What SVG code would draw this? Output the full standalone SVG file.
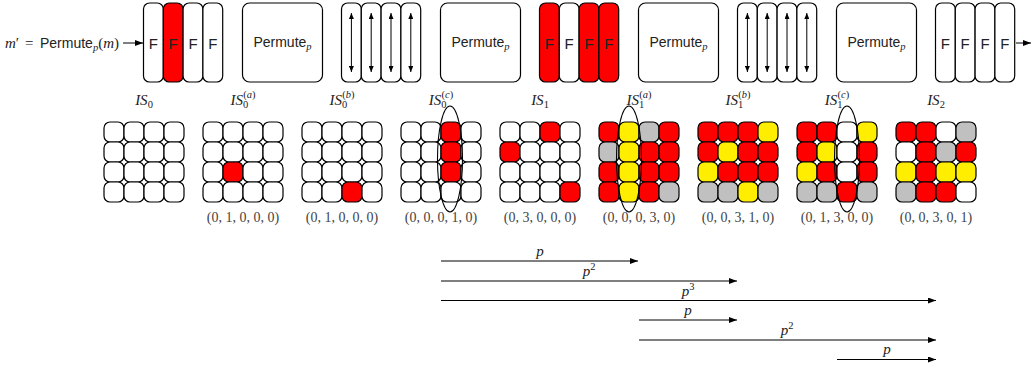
<svg xmlns="http://www.w3.org/2000/svg" width="1031" height="365" viewBox="0 0 1031 365">
  <style>
    .box { fill: #fff; stroke: #000; stroke-width: 1.2; }
    .red { fill: #ff0000; }
    .yel { fill: #ffee00; }
    .gry { fill: #c0c0c0; }
    .wht { fill: #fff; }
    .cell { stroke: #000; stroke-width: 1.2; }
    .sans { font-family: "Liberation Sans", Arial, sans-serif; font-size: 14px; fill: #222; }
    .fl { font-family: "Liberation Sans", Arial, sans-serif; font-size: 15px; fill: #222; text-anchor: middle; }
    .math { font-family: "Liberation Serif", "Times New Roman", serif; font-size: 15px; fill: #222; }
    .it { font-style: italic; }
    .sub { font-size: 10.5px; }
    .tuple { font-family: "Liberation Serif", "Times New Roman", serif; font-size: 14px; fill: #444; text-anchor: middle; }
    .conn { stroke: #000; stroke-width: 1; fill: none; }
    .ell { fill: none; stroke: #000; stroke-width: 1.1; }
  </style>
  <defs>
    <marker id="ah" viewBox="0 0 8 6" refX="8" refY="3" markerWidth="8" markerHeight="6" markerUnits="userSpaceOnUse" orient="auto-start-reverse">
      <path d="M0,0 L8,3 L0,6 z" fill="#000"/>
    </marker>
    <marker id="ahs" viewBox="0 0 6 5" refX="6" refY="2.5" markerWidth="6" markerHeight="5" markerUnits="userSpaceOnUse" orient="auto-start-reverse">
      <path d="M0,0 L6,2.5 L0,5 z" fill="#000"/>
    </marker>
    <!-- column of a round: 20 x 79 -->
    <rect id="col" width="19.8" height="79" rx="6" ry="6"/>
    <!-- vertical two-headed arrow inside a column -->
    <line id="varrow" x1="0" y1="13" x2="0" y2="72" stroke="#000" stroke-width="1" marker-start="url(#ahs)" marker-end="url(#ahs)"/>
  </defs>

  <!-- input label -->
  <g id="input-label">
    <text class="math it" x="5" y="48">m<tspan font-style="normal">′</tspan></text>
    <text class="math" x="25" y="48">=</text>
    <text x="40" y="48"><tspan class="sans" font-size="15px">Permute</tspan><tspan class="math it sub" dy="3">p</tspan><tspan class="math" dy="-3">(</tspan><tspan class="math it">m</tspan><tspan class="math">)</tspan></text>
  </g>

  <!-- top row of rounds -->
  <g id="round-F1">
    <use href="#col" x="143.5" y="3" class="box"/>
    <use href="#col" x="163.3" y="3" class="box red"/>
    <use href="#col" x="183.1" y="3" class="box"/>
    <use href="#col" x="202.9" y="3" class="box"/>
    <text class="fl" x="153.4" y="48.5">F</text>
    <text class="fl" x="173.2" y="48.5">F</text>
    <text class="fl" x="193" y="48.5">F</text>
    <text class="fl" x="212.8" y="48.5">F</text>
  </g>
  <g id="perm-1">
    <rect class="box" x="242.5" y="3" width="80" height="79" rx="7"/>
    <text class="sans" text-anchor="middle" x="282.5" y="47">Permute<tspan class="math it sub" dy="3">p</tspan></text>
  </g>
  <g id="mix-1">
    <use href="#col" x="341.5" y="3" class="box"/>
    <use href="#col" x="361.3" y="3" class="box"/>
    <use href="#col" x="381.1" y="3" class="box"/>
    <use href="#col" x="400.9" y="3" class="box"/>
    <use href="#varrow" x="351.4"/>
    <use href="#varrow" x="371.2"/>
    <use href="#varrow" x="391"/>
    <use href="#varrow" x="410.8"/>
  </g>
  <g id="perm-2">
    <rect class="box" x="440.5" y="3" width="80" height="79" rx="7"/>
    <text class="sans" text-anchor="middle" x="480.5" y="47">Permute<tspan class="math it sub" dy="3">p</tspan></text>
  </g>
  <g id="round-F2">
    <use href="#col" x="539.5" y="3" class="box red"/>
    <use href="#col" x="559.3" y="3" class="box"/>
    <use href="#col" x="579.1" y="3" class="box red"/>
    <use href="#col" x="598.9" y="3" class="box red"/>
    <text class="fl" x="549.4" y="48.5">F</text>
    <text class="fl" x="569.2" y="48.5">F</text>
    <text class="fl" x="589" y="48.5">F</text>
    <text class="fl" x="608.8" y="48.5">F</text>
  </g>
  <g id="perm-3">
    <rect class="box" x="638.5" y="3" width="80" height="79" rx="7"/>
    <text class="sans" text-anchor="middle" x="678.5" y="47">Permute<tspan class="math it sub" dy="3">p</tspan></text>
  </g>
  <g id="mix-2">
    <use href="#col" x="737.5" y="3" class="box"/>
    <use href="#col" x="757.3" y="3" class="box"/>
    <use href="#col" x="777.1" y="3" class="box"/>
    <use href="#col" x="796.9" y="3" class="box"/>
    <use href="#varrow" x="747.4"/>
    <use href="#varrow" x="767.2"/>
    <use href="#varrow" x="787"/>
    <use href="#varrow" x="806.8"/>
  </g>
  <g id="perm-4">
    <rect class="box" x="836.5" y="3" width="80" height="79" rx="7"/>
    <text class="sans" text-anchor="middle" x="876.5" y="47">Permute<tspan class="math it sub" dy="3">p</tspan></text>
  </g>
  <g id="round-F3">
    <use href="#col" x="935.5" y="3" class="box"/>
    <use href="#col" x="955.3" y="3" class="box"/>
    <use href="#col" x="975.1" y="3" class="box"/>
    <use href="#col" x="994.9" y="3" class="box"/>
    <text class="fl" x="945.4" y="48.5">F</text>
    <text class="fl" x="965.2" y="48.5">F</text>
    <text class="fl" x="985" y="48.5">F</text>
    <text class="fl" x="1004.8" y="48.5">F</text>
  </g>

  <!-- state grids: 4x4 cells of 20px -->
  <g id="IS0">
    <text class="math it" text-anchor="middle" x="144" y="105">IS<tspan class="sub" dy="3" font-style="normal">0</tspan></text>
    <g class="cell" transform="translate(104,122)">
      <rect class="wht" x="0" y="0" width="20" height="20" rx="6"/><rect class="wht" x="20" y="0" width="20" height="20" rx="6"/><rect class="wht" x="40" y="0" width="20" height="20" rx="6"/><rect class="wht" x="60" y="0" width="20" height="20" rx="6"/>
      <rect class="wht" x="0" y="20" width="20" height="20" rx="6"/><rect class="wht" x="20" y="20" width="20" height="20" rx="6"/><rect class="wht" x="40" y="20" width="20" height="20" rx="6"/><rect class="wht" x="60" y="20" width="20" height="20" rx="6"/>
      <rect class="wht" x="0" y="40" width="20" height="20" rx="6"/><rect class="wht" x="20" y="40" width="20" height="20" rx="6"/><rect class="wht" x="40" y="40" width="20" height="20" rx="6"/><rect class="wht" x="60" y="40" width="20" height="20" rx="6"/>
      <rect class="wht" x="0" y="60" width="20" height="20" rx="6"/><rect class="wht" x="20" y="60" width="20" height="20" rx="6"/><rect class="wht" x="40" y="60" width="20" height="20" rx="6"/><rect class="wht" x="60" y="60" width="20" height="20" rx="6"/>
    </g>
  </g>

  <g id="IS0a">
    <text class="math it" text-anchor="middle" x="243" y="105">IS<tspan class="sub" dy="3" font-style="normal">0</tspan><tspan class="sub" dx="-5" dy="-10" font-style="normal">(</tspan><tspan class="sub">a</tspan><tspan class="sub" font-style="normal">)</tspan></text>
    <g class="cell" transform="translate(203,122)">
      <rect class="wht" x="0" y="0" width="20" height="20" rx="6"/><rect class="wht" x="20" y="0" width="20" height="20" rx="6"/><rect class="wht" x="40" y="0" width="20" height="20" rx="6"/><rect class="wht" x="60" y="0" width="20" height="20" rx="6"/>
      <rect class="wht" x="0" y="20" width="20" height="20" rx="6"/><rect class="wht" x="20" y="20" width="20" height="20" rx="6"/><rect class="wht" x="40" y="20" width="20" height="20" rx="6"/><rect class="wht" x="60" y="20" width="20" height="20" rx="6"/>
      <rect class="wht" x="0" y="40" width="20" height="20" rx="6"/><rect class="red" x="20" y="40" width="20" height="20" rx="6"/><rect class="wht" x="40" y="40" width="20" height="20" rx="6"/><rect class="wht" x="60" y="40" width="20" height="20" rx="6"/>
      <rect class="wht" x="0" y="60" width="20" height="20" rx="6"/><rect class="wht" x="20" y="60" width="20" height="20" rx="6"/><rect class="wht" x="40" y="60" width="20" height="20" rx="6"/><rect class="wht" x="60" y="60" width="20" height="20" rx="6"/>
    </g>
    <text class="tuple" x="243" y="222">(0, 1, 0, 0, 0)</text>
  </g>

  <g id="IS0b">
    <text class="math it" text-anchor="middle" x="342" y="105">IS<tspan class="sub" dy="3" font-style="normal">0</tspan><tspan class="sub" dx="-5" dy="-10" font-style="normal">(</tspan><tspan class="sub">b</tspan><tspan class="sub" font-style="normal">)</tspan></text>
    <g class="cell" transform="translate(302,122)">
      <rect class="wht" x="0" y="0" width="20" height="20" rx="6"/><rect class="wht" x="20" y="0" width="20" height="20" rx="6"/><rect class="wht" x="40" y="0" width="20" height="20" rx="6"/><rect class="wht" x="60" y="0" width="20" height="20" rx="6"/>
      <rect class="wht" x="0" y="20" width="20" height="20" rx="6"/><rect class="wht" x="20" y="20" width="20" height="20" rx="6"/><rect class="wht" x="40" y="20" width="20" height="20" rx="6"/><rect class="wht" x="60" y="20" width="20" height="20" rx="6"/>
      <rect class="wht" x="0" y="40" width="20" height="20" rx="6"/><rect class="wht" x="20" y="40" width="20" height="20" rx="6"/><rect class="wht" x="40" y="40" width="20" height="20" rx="6"/><rect class="wht" x="60" y="40" width="20" height="20" rx="6"/>
      <rect class="wht" x="0" y="60" width="20" height="20" rx="6"/><rect class="wht" x="20" y="60" width="20" height="20" rx="6"/><rect class="red" x="40" y="60" width="20" height="20" rx="6"/><rect class="wht" x="60" y="60" width="20" height="20" rx="6"/>
    </g>
    <text class="tuple" x="342" y="222">(0, 1, 0, 0, 0)</text>
  </g>

  <g id="IS0c">
    <text class="math it" text-anchor="middle" x="441" y="105">IS<tspan class="sub" dy="3" font-style="normal">0</tspan><tspan class="sub" dx="-5" dy="-10" font-style="normal">(</tspan><tspan class="sub">c</tspan><tspan class="sub" font-style="normal">)</tspan></text>
    <g class="cell" transform="translate(401,122)">
      <rect class="wht" x="0" y="0" width="20" height="20" rx="6"/><rect class="wht" x="20" y="0" width="20" height="20" rx="6"/><rect class="red" x="40" y="0" width="20" height="20" rx="6"/><rect class="wht" x="60" y="0" width="20" height="20" rx="6"/>
      <rect class="wht" x="0" y="20" width="20" height="20" rx="6"/><rect class="wht" x="20" y="20" width="20" height="20" rx="6"/><rect class="red" x="40" y="20" width="20" height="20" rx="6"/><rect class="wht" x="60" y="20" width="20" height="20" rx="6"/>
      <rect class="wht" x="0" y="40" width="20" height="20" rx="6"/><rect class="wht" x="20" y="40" width="20" height="20" rx="6"/><rect class="red" x="40" y="40" width="20" height="20" rx="6"/><rect class="wht" x="60" y="40" width="20" height="20" rx="6"/>
      <rect class="wht" x="0" y="60" width="20" height="20" rx="6"/><rect class="wht" x="20" y="60" width="20" height="20" rx="6"/><rect class="wht" x="40" y="60" width="20" height="20" rx="6"/><rect class="wht" x="60" y="60" width="20" height="20" rx="6"/>
    </g>
    <ellipse class="ell" cx="450" cy="159" rx="12.5" ry="53"/>
    <text class="tuple" x="441" y="222">(0, 0, 0, 1, 0)</text>
  </g>

  <g id="IS1">
    <text class="math it" text-anchor="middle" x="540" y="105">IS<tspan class="sub" dy="3" font-style="normal">1</tspan></text>
    <g class="cell" transform="translate(500,122)">
      <rect class="wht" x="0" y="0" width="20" height="20" rx="6"/><rect class="wht" x="20" y="0" width="20" height="20" rx="6"/><rect class="red" x="40" y="0" width="20" height="20" rx="6"/><rect class="wht" x="60" y="0" width="20" height="20" rx="6"/>
      <rect class="red" x="0" y="20" width="20" height="20" rx="6"/><rect class="wht" x="20" y="20" width="20" height="20" rx="6"/><rect class="wht" x="40" y="20" width="20" height="20" rx="6"/><rect class="wht" x="60" y="20" width="20" height="20" rx="6"/>
      <rect class="wht" x="0" y="40" width="20" height="20" rx="6"/><rect class="wht" x="20" y="40" width="20" height="20" rx="6"/><rect class="wht" x="40" y="40" width="20" height="20" rx="6"/><rect class="wht" x="60" y="40" width="20" height="20" rx="6"/>
      <rect class="wht" x="0" y="60" width="20" height="20" rx="6"/><rect class="wht" x="20" y="60" width="20" height="20" rx="6"/><rect class="wht" x="40" y="60" width="20" height="20" rx="6"/><rect class="red" x="60" y="60" width="20" height="20" rx="6"/>
    </g>
    <text class="tuple" x="540" y="222">(0, 3, 0, 0, 0)</text>
  </g>

  <g id="IS1a">
    <text class="math it" text-anchor="middle" x="639" y="105">IS<tspan class="sub" dy="3" font-style="normal">1</tspan><tspan class="sub" dx="-5" dy="-10" font-style="normal">(</tspan><tspan class="sub">a</tspan><tspan class="sub" font-style="normal">)</tspan></text>
    <g class="cell" transform="translate(599,122)">
      <rect class="red" x="0" y="0" width="20" height="20" rx="6"/><rect class="yel" x="20" y="0" width="20" height="20" rx="6"/><rect class="gry" x="40" y="0" width="20" height="20" rx="6"/><rect class="red" x="60" y="0" width="20" height="20" rx="6"/>
      <rect class="gry" x="0" y="20" width="20" height="20" rx="6"/><rect class="yel" x="20" y="20" width="20" height="20" rx="6"/><rect class="red" x="40" y="20" width="20" height="20" rx="6"/><rect class="red" x="60" y="20" width="20" height="20" rx="6"/>
      <rect class="red" x="0" y="40" width="20" height="20" rx="6"/><rect class="yel" x="20" y="40" width="20" height="20" rx="6"/><rect class="red" x="40" y="40" width="20" height="20" rx="6"/><rect class="red" x="60" y="40" width="20" height="20" rx="6"/>
      <rect class="red" x="0" y="60" width="20" height="20" rx="6"/><rect class="yel" x="20" y="60" width="20" height="20" rx="6"/><rect class="red" x="40" y="60" width="20" height="20" rx="6"/><rect class="gry" x="60" y="60" width="20" height="20" rx="6"/>
    </g>
    <ellipse class="ell" cx="629" cy="159" rx="12.5" ry="53"/>
    <text class="tuple" x="639" y="222">(0, 0, 0, 3, 0)</text>
  </g>

  <g id="IS1b">
    <text class="math it" text-anchor="middle" x="738" y="105">IS<tspan class="sub" dy="3" font-style="normal">1</tspan><tspan class="sub" dx="-5" dy="-10" font-style="normal">(</tspan><tspan class="sub">b</tspan><tspan class="sub" font-style="normal">)</tspan></text>
    <g class="cell" transform="translate(698,122)">
      <rect class="red" x="0" y="0" width="20" height="20" rx="6"/><rect class="red" x="20" y="0" width="20" height="20" rx="6"/><rect class="red" x="40" y="0" width="20" height="20" rx="6"/><rect class="yel" x="60" y="0" width="20" height="20" rx="6"/>
      <rect class="red" x="0" y="20" width="20" height="20" rx="6"/><rect class="yel" x="20" y="20" width="20" height="20" rx="6"/><rect class="red" x="40" y="20" width="20" height="20" rx="6"/><rect class="red" x="60" y="20" width="20" height="20" rx="6"/>
      <rect class="yel" x="0" y="40" width="20" height="20" rx="6"/><rect class="red" x="20" y="40" width="20" height="20" rx="6"/><rect class="red" x="40" y="40" width="20" height="20" rx="6"/><rect class="red" x="60" y="40" width="20" height="20" rx="6"/>
      <rect class="gry" x="0" y="60" width="20" height="20" rx="6"/><rect class="gry" x="20" y="60" width="20" height="20" rx="6"/><rect class="yel" x="40" y="60" width="20" height="20" rx="6"/><rect class="gry" x="60" y="60" width="20" height="20" rx="6"/>
    </g>
    <text class="tuple" x="738" y="222">(0, 0, 3, 1, 0)</text>
  </g>

  <g id="IS1c">
    <text class="math it" text-anchor="middle" x="837" y="105">IS<tspan class="sub" dy="3" font-style="normal">1</tspan><tspan class="sub" dx="-5" dy="-10" font-style="normal">(</tspan><tspan class="sub">c</tspan><tspan class="sub" font-style="normal">)</tspan></text>
    <g class="cell" transform="translate(797,122)">
      <rect class="red" x="0" y="0" width="20" height="20" rx="6"/><rect class="red" x="20" y="0" width="20" height="20" rx="6"/><rect class="wht" x="40" y="0" width="20" height="20" rx="6"/><rect class="yel" x="60" y="0" width="20" height="20" rx="6"/>
      <rect class="red" x="0" y="20" width="20" height="20" rx="6"/><rect class="yel" x="20" y="20" width="20" height="20" rx="6"/><rect class="wht" x="40" y="20" width="20" height="20" rx="6"/><rect class="red" x="60" y="20" width="20" height="20" rx="6"/>
      <rect class="yel" x="0" y="40" width="20" height="20" rx="6"/><rect class="red" x="20" y="40" width="20" height="20" rx="6"/><rect class="wht" x="40" y="40" width="20" height="20" rx="6"/><rect class="red" x="60" y="40" width="20" height="20" rx="6"/>
      <rect class="gry" x="0" y="60" width="20" height="20" rx="6"/><rect class="gry" x="20" y="60" width="20" height="20" rx="6"/><rect class="red" x="40" y="60" width="20" height="20" rx="6"/><rect class="gry" x="60" y="60" width="20" height="20" rx="6"/>
    </g>
    <ellipse class="ell" cx="847" cy="159" rx="12.5" ry="53"/>
    <text class="tuple" x="837" y="222">(0, 1, 3, 0, 0)</text>
  </g>

  <g id="IS2">
    <text class="math it" text-anchor="middle" x="936" y="105">IS<tspan class="sub" dy="3" font-style="normal">2</tspan></text>
    <g class="cell" transform="translate(896,122)">
      <rect class="red" x="0" y="0" width="20" height="20" rx="6"/><rect class="red" x="20" y="0" width="20" height="20" rx="6"/><rect class="wht" x="40" y="0" width="20" height="20" rx="6"/><rect class="gry" x="60" y="0" width="20" height="20" rx="6"/>
      <rect class="wht" x="0" y="20" width="20" height="20" rx="6"/><rect class="red" x="20" y="20" width="20" height="20" rx="6"/><rect class="gry" x="40" y="20" width="20" height="20" rx="6"/><rect class="red" x="60" y="20" width="20" height="20" rx="6"/>
      <rect class="yel" x="0" y="40" width="20" height="20" rx="6"/><rect class="red" x="20" y="40" width="20" height="20" rx="6"/><rect class="yel" x="40" y="40" width="20" height="20" rx="6"/><rect class="yel" x="60" y="40" width="20" height="20" rx="6"/>
      <rect class="gry" x="0" y="60" width="20" height="20" rx="6"/><rect class="red" x="20" y="60" width="20" height="20" rx="6"/><rect class="red" x="40" y="60" width="20" height="20" rx="6"/><rect class="wht" x="60" y="60" width="20" height="20" rx="6"/>
    </g>
    <text class="tuple" x="936" y="222">(0, 0, 3, 0, 1)</text>
  </g>

  <!-- connectors -->
  <g id="connectors">
    <line class="conn" x1="123" y1="43" x2="143" y2="43" marker-end="url(#ah)"/>
    <line class="conn" x1="1016" y1="43" x2="1031" y2="43" marker-end="url(#ah)"/>

    <line class="conn" x1="441" y1="261" x2="638" y2="261" marker-end="url(#ah)"/>
    <line class="conn" x1="441" y1="281" x2="737" y2="281" marker-end="url(#ah)"/>
    <line class="conn" x1="441" y1="300.5" x2="936" y2="300.5" marker-end="url(#ah)"/>
    <line class="conn" x1="639" y1="320" x2="737" y2="320" marker-end="url(#ah)"/>
    <line class="conn" x1="639" y1="340" x2="936" y2="340" marker-end="url(#ah)"/>
    <line class="conn" x1="837" y1="359.5" x2="936" y2="359.5" marker-end="url(#ah)"/>

    <text class="math it" text-anchor="middle" x="540" y="256">p</text>
    <text class="math it" text-anchor="middle" x="589" y="276">p<tspan class="sub" font-style="normal" dy="-6">2</tspan></text>
    <text class="math it" text-anchor="middle" x="688" y="296">p<tspan class="sub" font-style="normal" dy="-6">3</tspan></text>
    <text class="math it" text-anchor="middle" x="688" y="315">p</text>
    <text class="math it" text-anchor="middle" x="787" y="335">p<tspan class="sub" font-style="normal" dy="-6">2</tspan></text>
    <text class="math it" text-anchor="middle" x="887" y="354">p</text>
  </g>
</svg>
